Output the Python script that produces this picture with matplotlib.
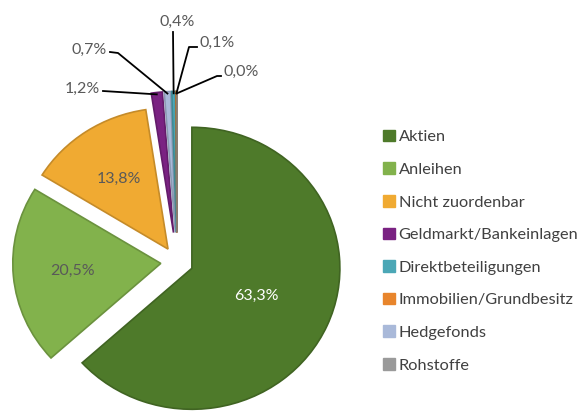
import matplotlib
matplotlib.use('Agg')
import matplotlib.pyplot as plt
import matplotlib.colors as mcolors
import numpy as np

plt.rcParams['font.family'] = ['Lato', 'DejaVu Sans']

# data (legend order)
categories = ['Aktien', 'Anleihen', 'Nicht zuordenbar', 'Geldmarkt/Bankeinlagen',
              'Direktbeteiligungen', 'Immobilien/Grundbesitz', 'Hedgefonds', 'Rohstoffe']
values = [63.3, 20.5, 13.8, 1.2, 0.4, 0.1, 0.7, 0.0]
labels = ['63,3%', '20,5%', '13,8%', '1,2%', '0,4%', '0,1%', '0,7%', '0,0%']
colors = ['#4e7a2a', '#82b24c', '#f0aa32', '#7a2282', '#4ba7b6', '#e8852c', '#a9b9d9', '#9a9a9a']
# order the slices appear clockwise in the picture
pie_order = [0, 1, 2, 3, 6, 4, 5, 7]
explode = [0.11, 0.11, 0.11, 0.21, 0.21, 0.21, 0.21, 0.21]

W, H = 580, 413
R = 148
sy = 141 / 148  # slight vertical squash (tilted pie)

fig = plt.figure(figsize=(W / 100, H / 100), dpi=100)
ax = fig.add_axes([0, 0, 1, 1])

def Y(py):
    return (H - py) / sy

wedges, _ = ax.pie([values[i] for i in pie_order],
                   colors=[colors[i] for i in pie_order],
                   explode=[explode[i] * R for i in pie_order],
                   startangle=90, counterclock=False,
                   center=(177, Y(262)), radius=R,
                   wedgeprops=dict(linewidth=1.2), frame=True)
for k, w in enumerate(wedges):
    c = np.array(mcolors.to_rgb(colors[pie_order[k]])) * 0.82
    w.set_edgecolor(c)
ax.set_xlim(0, W)
ax.set_ylim(0, H / sy)
ax.set_aspect('auto')
ax.axis('off')

# labels inside the big slices
inner = {0: (0.48, 'white'), 1: (0.6, '#595959'), 2: (0.6, '#595959')}
for k, idx in enumerate(pie_order):
    w = wedges[k]
    mid = np.deg2rad((w.theta1 + w.theta2) / 2)
    cx, cy = w.center
    if idx in inner:
        d, c = inner[idx]
        ax.text(cx + d * w.r * np.cos(mid), cy + d * w.r * np.sin(mid), labels[idx],
                ha='center', va='center', color=c, fontsize=11.5)

# outside labels with leader lines for the small slices
out_pos = {3: (100, 89, 'right'), 6: (107, 50, 'right'), 4: (177, 22, 'center'),
           5: (199, 43, 'left'), 7: (223, 72, 'left')}
knee = {3: None, 6: (118, 53), 4: None, 5: (189, 47), 7: (217, 76)}
for k, idx in enumerate(pie_order):
    if idx not in out_pos:
        continue
    w = wedges[k]
    mid = np.deg2rad((w.theta1 + w.theta2) / 2)
    cx, cy = w.center
    ax_, ay_ = cx + w.r * np.cos(mid), cy + w.r * np.sin(mid)
    tx, ty, ha = out_pos[idx]
    if ha == 'right':
        start = (tx + 3, Y(ty + 2))
    elif ha == 'left':
        start = (tx - 2, Y(ty + 4))
    else:
        start = (tx - 4, Y(ty + 10))
    pts = [start]
    if knee[idx] is not None:
        pts.append((knee[idx][0], Y(knee[idx][1])))
    pts.append((ax_, ay_ - 2))
    xs, ys = zip(*pts)
    ax.plot(xs, ys, color='black', lw=1.3)
    ax.text(tx, Y(ty), labels[idx], ha=ha, va='center', color='#595959', fontsize=11.5)

# legend
handles = [plt.Rectangle((0, 0), 1, 1, color=c) for c in colors]
fig.legend(handles, categories, loc='upper left', bbox_to_anchor=(368 / W, 1 - 115 / H),
           frameon=False, fontsize=11.8, handlelength=0.72, handleheight=0.72,
           handletextpad=0.25, labelspacing=1.10, labelcolor='#404040')

fig.savefig('out.png', dpi=100)
